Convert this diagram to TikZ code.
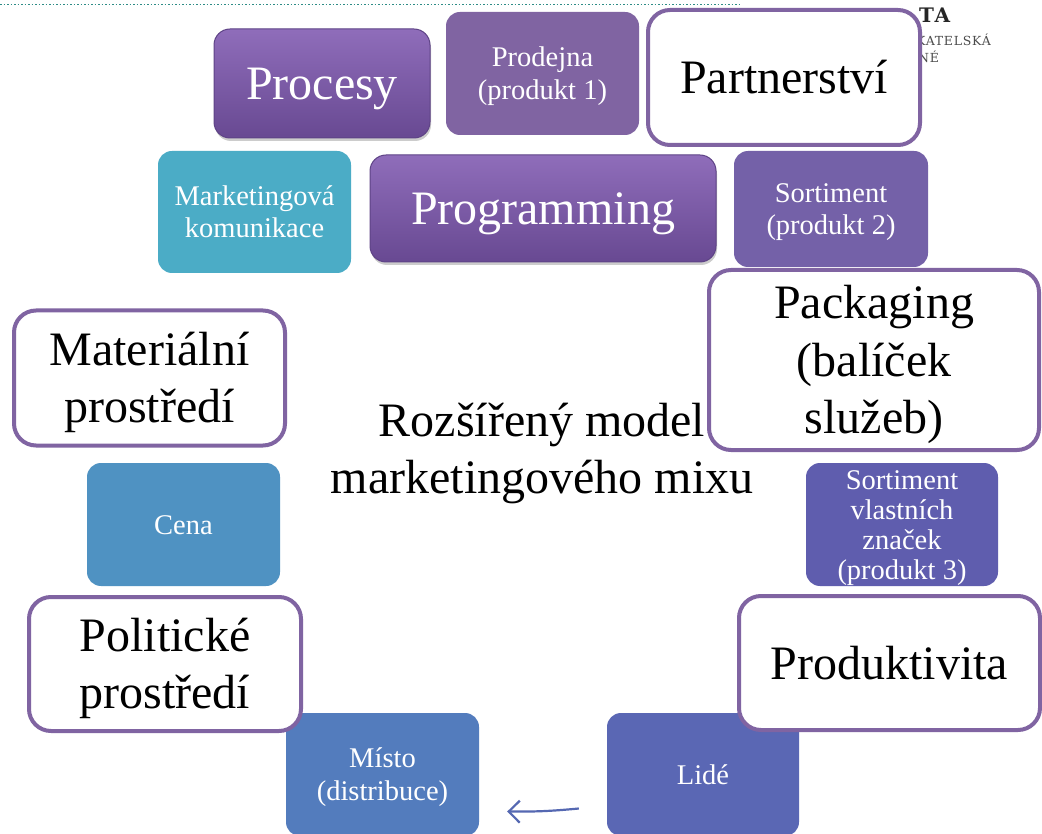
\documentclass[tikz,border=0pt]{standalone}
\usepackage{fontspec}
\setmainfont{Liberation Serif}
\newfontfamily\logofont{DejaVu Serif}[LetterSpace=8]
\newfontfamily\logofontb{DejaVu Serif}[LetterSpace=6]
\usetikzlibrary{shadows,arrows.meta}
\newcommand{\pst}{\rule[-0.216em]{0pt}{1.107em}}
\definecolor{frame}{HTML}{8064A2}
\definecolor{bevtop}{HTML}{8F6DBA}
\definecolor{bevbot}{HTML}{684992}
\definecolor{bevdraw}{HTML}{5E4386}
\definecolor{prodejnac}{HTML}{8064A2}
\definecolor{marketc}{HTML}{4BACC6}
\definecolor{sort2c}{HTML}{7461A8}
\definecolor{sort3c}{HTML}{5F5DAE}
\definecolor{cenac}{HTML}{4F92C2}
\definecolor{mistoc}{HTML}{537CBD}
\definecolor{lidec}{HTML}{5A67B4}
\definecolor{arrowc}{HTML}{5568B2}
\definecolor{dotc}{HTML}{2E8C86}
\tikzset{
  bigtext/.style={font=\fontsize{48}{57.5}\selectfont},
  smalltext/.style={font=\fontsize{28.5}{30}\selectfont},
  flatbox/.style={rounded corners=14pt, inner sep=0pt, text=white, align=center, smalltext},
  whitebox/.style={draw=frame, line width=4pt, fill=white, rounded corners=22pt, inner sep=0pt, align=center, bigtext},
  bevelbox/.style={rounded corners=16pt, top color=bevtop, bottom color=bevbot, draw=bevdraw, line width=1pt,
    drop shadow={opacity=0.4, shadow xshift=1pt, shadow yshift=-3pt},
    text=white, bigtext, inner sep=0pt},
  logo/.style={anchor=base west, inner sep=0pt},
  conn/.style={draw=arrowc, line width=2.2pt, -{Straight Barb[length=11pt,width=22pt,line width=2.2pt]}}
}
\begin{document}
\begin{tikzpicture}[x=1pt,y=-1pt]
\useasboundingbox (0,0) rectangle (1042,834);
\fill[white] (0,0) rectangle (1042,834);
% top dotted rule
\draw[dotc, line width=1.6pt, dash pattern=on 1.6pt off 1.9pt] (0,4.5) -- (740,4.5);
% logo fragments
\node[logo, text=black!85] (logoa) at (919,23) {\logofont\fontsize{20}{21}\selectfont\bfseries TA};
\node[logo, text=black!70] (logob) at (916,46) {\logofontb\fontsize{12.5}{13}\selectfont KATELSKÁ};
\node[logo, text=black!70] (logoc) at (918,63) {\logofontb\fontsize{12.5}{13}\selectfont NÉ};
% centre title
\node[align=center, bigtext] (title) at (542,449) {\pst Rozšířený model\\marketingového mixu\pst};
% coloured boxes
\node[bevelbox, minimum width=216pt, minimum height=109pt] (procesy) at (322,83.5) {\pst Procesy};
\node[flatbox, fill=prodejnac, minimum width=193pt, minimum height=123pt] (prodejna) at (542.5,73.5) {\pst Prodejna\\(produkt 1)\pst};
\node[flatbox, fill=marketc, minimum width=193pt, minimum height=122pt] (market) at (254.5,212) {\pst Marketingová\\komunikace\pst};
\node[bevelbox, minimum width=346pt, minimum height=107pt] (programming) at (543,208.5) {\pst Programming};
\node[flatbox, fill=sort2c, minimum width=194pt, minimum height=116pt] (sort2) at (831,209) {\pst Sortiment\\(produkt 2)\pst};
\node[flatbox, fill=cenac, minimum width=193pt, minimum height=123pt] (cena) at (183.5,524.5) {\pst Cena};
\node[flatbox, fill=sort3c, minimum width=192pt, minimum height=123pt] (sort3) at (902,524.5) {\pst Sortiment\\vlastních\\značek\\(produkt 3)\pst};
\node[flatbox, fill=mistoc, minimum width=193pt, minimum height=123pt] (misto) at (382.5,774.5) {\pst Místo\\(distribuce)\pst};
\node[flatbox, fill=lidec, minimum width=192pt, minimum height=123pt] (lide) at (703,774.5) {\pst Lidé};
% white framed boxes
\node[whitebox, minimum width=272pt, minimum height=135pt] (partner) at (784,77.5) {\pst Partnerství};
\node[whitebox, minimum width=330pt, minimum height=180pt] (packaging) at (874,360) {\pst Packaging\\(balíček\\služeb)\pst};
\node[whitebox, minimum width=271pt, minimum height=135pt] (material) at (149.5,378) {\pst Materiální\\prostředí\pst};
\node[whitebox, minimum width=272pt, minimum height=134pt] (politicke) at (165,664) {\pst Politické\\prostředí\pst};
\node[whitebox, minimum width=301pt, minimum height=134pt] (produkt) at (889.5,663) {\pst Produktivita};
% connector
\draw[conn] ([xshift=-28pt,yshift=-34pt]lide.west) to[bend left=3] ([xshift=28pt,yshift=-37pt]misto.east);
\end{tikzpicture}
\end{document}
